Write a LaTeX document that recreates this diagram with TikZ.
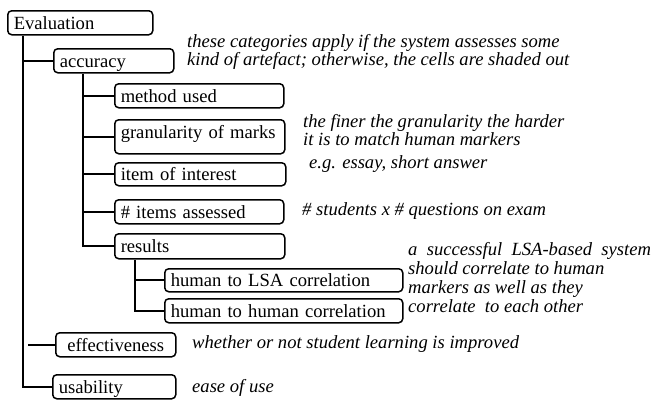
\documentclass[tikz,border=0pt]{standalone}
\usepackage{fontspec}
\setmainfont{Liberation Serif}
\begin{document}
\begin{tikzpicture}[x=1pt,y=-1pt]
\tikzset{cat/.style={draw,rounded corners=4pt,line width=1.5pt,anchor=north west,inner xsep=6pt,inner ysep=0pt,align=left,text height=13pt,text depth=0pt,minimum height=24pt,font=\fontsize{18.6}{18}\selectfont}}
\tikzset{note/.style={anchor=base west,inner sep=0pt,align=left,font=\fontsize{18.6}{18}\selectfont\itshape}}
\tikzset{branch/.style={line width=1.8pt}}
\useasboundingbox (0,0) rectangle (653,399);
\node[cat,text width=133pt] (eval) at (7,10) {Evaluation};
\node[cat,text width=108pt] (acc) at (53,48) {accuracy};
\node[cat,text width=157pt] (meth) at (114,83) {method used};
\node[cat,text width=158pt,text height=14pt,text depth=10pt,minimum height=34pt] (gran) at (114,119) {granularity of marks};
\node[cat,text width=159pt,minimum height=23pt] (item) at (114,162) {item of interest};
\node[cat,text width=157pt] (nitems) at (114,199) {\# items assessed};
\node[cat,text width=158pt,minimum height=25pt] (res) at (114,233) {results};
\node[cat,text width=226pt,minimum height=23pt] (hlsa) at (164,268) {human to LSA correlation};
\node[cat,text width=226pt] (hhum) at (164,298) {human to human correlation};
\node[cat,text width=108pt,align=center] (eff) at (55,332) {effectiveness};
\node[cat,text width=111pt] (usa) at (52,374) {usability};
\node[note] (naccu) at (187,65) {these categories apply if the system assesses some\\kind of artefact; otherwise, the cells are shaded out};
\node[note] (ngran) at (303,145) {the finer the granularity the harder\\it is to match human markers};
\node[note] (nitem) at (309,168) {e.g. essay, short answer};
\node[note] (nnum) at (302,215) {\# students x \# questions on exam};
\node[note,font=\fontsize{18.6}{19}\selectfont\itshape] (nres) at (408,312) {a~ successful~ LSA-based~ system\\should correlate to human\\markers as well as they\\correlate~ to each other};
\node[note] (neff) at (192,348) {whether or not student learning is improved};
\node[note] (nusa) at (192,392) {ease of use};
\coordinate (t0) at ([xshift=16pt]eval.south west);
\coordinate (t1) at ([xshift=30pt]acc.south west);
\coordinate (t2) at ([xshift=21pt]res.south west);
\draw[branch] (t0) |- (usa.west);
\draw[branch] (acc.west) -- (acc.west -| t0);
\draw[branch] (eff.west) -- ([xshift=5pt]eff.west -| t0);
\draw[branch] (t1) |- (res.west);
\foreach \n in {meth,gran,item,nitems}
  \draw[branch] (\n.west) -- (\n.west -| t1);
\draw[branch] (t2) |- (hhum.west);
\draw[branch] (hlsa.west) -- (hlsa.west -| t2);
\end{tikzpicture}
\end{document}
